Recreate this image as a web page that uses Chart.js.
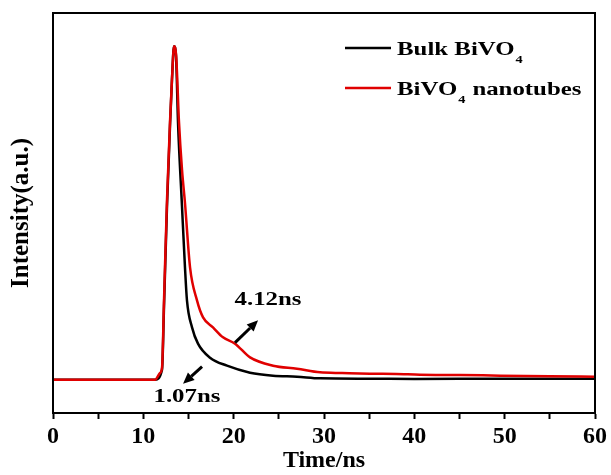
<!DOCTYPE html>
<html>
<head>
<meta charset="utf-8">
<script src="https://cdn.jsdelivr.net/npm/chart.js@4.4.1/dist/chart.umd.min.js"></script>
<style>
  html, body { margin: 0; padding: 0; background: #fff; }
  #wrap { width: 611px; height: 475px; position: relative; }
</style>
</head>
<body>
<div id="wrap"><canvas id="chart"></canvas></div>
<script>
// series data (time in ns, normalised intensity)
const seriesNames = ['Bulk BiVO', 'BiVO'];
const bulkTime = [0, 5, 11.3, 12.07, 12.29, 12.62, 12.95, 13.17, 13.4, 13.62, 13.84, 14.28, 14.61, 14.83, 15.39, 16.05, 17.38, 19.26, 21.81, 24.36, 27.01, 29.56, 35, 40, 50, 60];
const bulkIntensity = [0, 0, 0, 0.03, 0.22, 0.52, 0.76, 0.9, 1.0, 0.97, 0.771, 0.52, 0.337, 0.238, 0.157, 0.108, 0.066, 0.042, 0.021, 0.012, 0.009, 0.004, 0.003, 0.002, 0.003, 0.003];
const tubeTime = [0, 5, 11.3, 11.85, 12.07, 12.29, 12.62, 12.95, 13.17, 13.4, 13.62, 13.95, 14.28, 14.61, 15.17, 15.94, 16.61, 17.71, 18.82, 20.15, 21.81, 24.36, 27.01, 29.56, 32, 35.09, 38, 40.63, 45, 49.5, 55, 60];
const tubeIntensity = [0, 0, 0, 0.02, 0.036, 0.238, 0.539, 0.771, 0.9, 1.0, 0.976, 0.771, 0.63, 0.53, 0.337, 0.238, 0.187, 0.157, 0.127, 0.108, 0.067, 0.042, 0.033, 0.022, 0.02, 0.018, 0.017, 0.015, 0.014, 0.012, 0.01, 0.009];
const xTicks = [0, 10, 20, 30, 40, 50, 60];
const lifetimes = ['4.12ns', '1.07ns'];

const serif = '"Liberation Serif", "Times New Roman", serif';

function toPoints(xs, ys) {
    return xs.map((x, i) => ({ x: x, y: ys[i] }));
}

// draws text squeezed/stretched horizontally like the original figure
function wideText(ctx, text, x, y, sx) {
    ctx.save();
    ctx.translate(x, y);
    ctx.scale(sx, 1);
    ctx.fillText(text, 0, 0);
    const w = ctx.measureText(text).width * sx;
    ctx.restore();
    return w;
}

function arrow(ctx, x1, y1, x2, y2) {
    const ang = Math.atan2(y2 - y1, x2 - x1);
    const head = 11, half = 5;
    const bx = x2 - head * Math.cos(ang), by = y2 - head * Math.sin(ang);
    ctx.beginPath();
    ctx.moveTo(x1, y1);
    ctx.lineTo(bx, by);
    ctx.lineWidth = 3;
    ctx.strokeStyle = '#000';
    ctx.stroke();
    ctx.beginPath();
    ctx.moveTo(x2, y2);
    ctx.lineTo(bx + half * Math.sin(ang), by - half * Math.cos(ang));
    ctx.lineTo(bx - half * Math.sin(ang), by + half * Math.cos(ang));
    ctx.closePath();
    ctx.fillStyle = '#000';
    ctx.fill();
}

const framePlugin = {
    id: 'frame',
    afterDatasetsDraw(chart) {
        const { ctx, chartArea: a, scales } = chart;
        const px = v => scales.x.getPixelForValue(v);
        const py = v => scales.y.getPixelForValue(v);

        ctx.save();
        ctx.strokeStyle = '#000';
        ctx.lineWidth = 2;
        ctx.strokeRect(a.left, a.top, a.right - a.left, a.bottom - a.top);

        // legend
        const colors = ['#000000', '#e00000'];
        ctx.fillStyle = '#000';
        ctx.textBaseline = 'alphabetic';
        [0, 1].forEach(i => {
            const yl = 48 + i * 40;
            ctx.beginPath();
            ctx.moveTo(345, yl);
            ctx.lineTo(391, yl);
            ctx.strokeStyle = colors[i];
            ctx.lineWidth = 2.5;
            ctx.stroke();
            ctx.fillStyle = '#000';
            ctx.font = 'bold 18px ' + serif;
            let x = 397;
            x += wideText(ctx, seriesNames[i], x, yl + 7, 1.38);
            ctx.font = 'bold 11px ' + serif;
            x += wideText(ctx, '4', x + 1, yl + 15, 1.3) + 4;
            if (i === 1) {
                ctx.font = 'bold 18px ' + serif;
                wideText(ctx, 'nanotubes', x + 4, yl + 7, 1.38);
            }
        });

        // lifetime annotations (positions in data units)
        ctx.font = 'bold 18px ' + serif;
        ctx.textBaseline = 'middle';
        let w = ctx.measureText(lifetimes[0]).width * 1.38;
        wideText(ctx, lifetimes[0], px(23.8) - w / 2, py(0.238), 1.38);
        w = ctx.measureText(lifetimes[1]).width * 1.38;
        wideText(ctx, lifetimes[1], px(14.83) - w / 2, py(-0.052), 1.38);
        arrow(ctx, px(20.15), py(0.111), px(22.7), py(0.178));
        arrow(ctx, px(16.5), py(0.039), px(14.4), py(-0.012));
        ctx.restore();
    }
};

new Chart(document.getElementById('chart'), {
    type: 'line',
    data: {
        datasets: [
            {
                label: 'BiVO4 nanotubes',
                data: toPoints(tubeTime, tubeIntensity),
                borderColor: '#e00000',
                borderWidth: 2.5,
                pointRadius: 0,
                cubicInterpolationMode: 'monotone',
                order: 0
            },
            {
                label: 'Bulk BiVO4',
                data: toPoints(bulkTime, bulkIntensity),
                borderColor: '#000000',
                borderWidth: 2.5,
                pointRadius: 0,
                cubicInterpolationMode: 'monotone',
                order: 1
            }
        ]
    },
    options: {
        responsive: true,
        maintainAspectRatio: false,
        animation: false,
        layout: { padding: { top: 13, right: 16, left: 0, bottom: 0 } },
        plugins: { legend: { display: false }, tooltip: { enabled: false } },
        scales: {
            x: {
                type: 'linear',
                min: 0,
                max: 60,
                afterFit: s => { s.height = 62; },
                ticks: {
                    stepSize: 5,
                    padding: 3,
                    color: '#000',
                    maxRotation: 0,
                    font: { family: serif, size: 24, weight: 'bold' },
                    callback: v => xTicks.includes(v) ? String(v) : ''
                },
                grid: {
                    drawOnChartArea: false,
                    drawTicks: true,
                    tickLength: 6,
                    tickWidth: 2,
                    tickColor: '#000'
                },
                border: { color: '#000', width: 2 },
                title: {
                    display: true,
                    text: 'Time/ns',
                    color: '#000',
                    padding: 0,
                    font: { family: serif, size: 24, weight: 'bold', lineHeight: 1.2 }
                }
            },
            y: {
                min: -0.1,
                max: 1.1,
                afterFit: s => { s.width = 53; },
                ticks: { display: false },
                grid: { display: false },
                border: { color: '#000', width: 2 },
                title: {
                    display: true,
                    text: 'Intensity(a.u.)',
                    color: '#000',
                    padding: { top: 7, bottom: 0 },
                    font: { family: serif, size: 25, weight: 'bold', lineHeight: 1.2 }
                }
            }
        }
    },
    plugins: [framePlugin]
});
</script>
</body>
</html>
